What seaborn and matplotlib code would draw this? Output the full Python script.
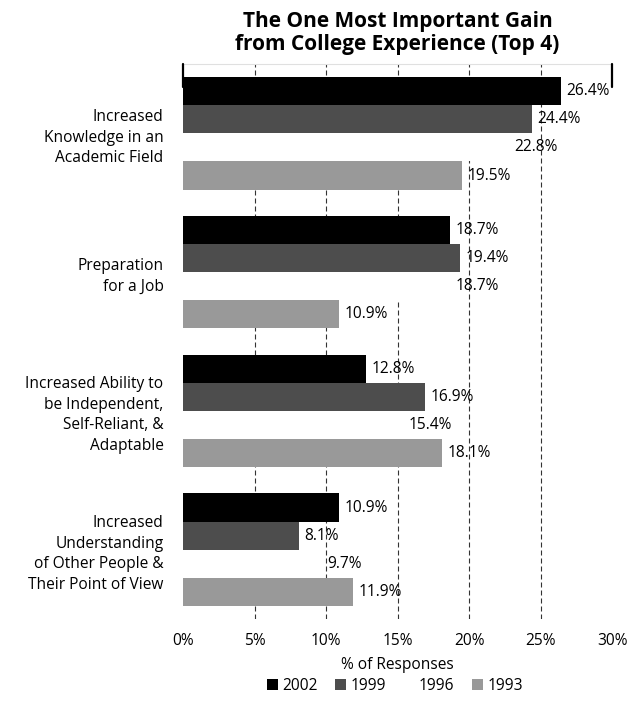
import matplotlib
matplotlib.use("Agg")
import matplotlib.pyplot as plt
import seaborn as sns
import pandas as pd

categories = [
    "Increased\nKnowledge in an\nAcademic Field",
    "Preparation\nfor a Job",
    "Increased Ability to\nbe Independent,\nSelf-Reliant, &\nAdaptable",
    "Increased\nUnderstanding\nof Other People &\nTheir Point of View",
]
years = ["2002", "1999", "1996", "1993"]
v2002 = [26.4, 18.7, 12.8, 10.9]
v1999 = [24.4, 19.4, 16.9, 8.1]
v1996 = [22.8, 18.7, 15.4, 9.7]
v1993 = [19.5, 10.9, 18.1, 11.9]
x_ticks = [0, 5, 10, 15, 20, 25, 30]
x_tick_labels = ["0%", "5%", "10%", "15%", "20%", "25%", "30%"]
colors = ["#000000", "#4d4d4d", "#ffffff", "#999999"]

series = {"2002": v2002, "1999": v1999, "1996": v1996, "1993": v1993}
rows = []
for yr in years:
    for cat, val in zip(categories, series[yr]):
        rows.append({"Gain": cat, "Year": yr, "Percent": val})
df = pd.DataFrame(rows)

sns.set_theme(style="white")
plt.rcParams["font.family"] = ["Open Sans", "DejaVu Sans"]
plt.rcParams["text.color"] = "#000000"

FS = 11.2
fig = plt.figure(figsize=(6.39, 7.04), dpi=100)
ax = fig.add_axes([0.2864, 0.1207, 0.6714, 0.7884])

sns.barplot(data=df, x="Percent", y="Gain", hue="Year", hue_order=years,
            order=categories, orient="h", palette=colors, width=0.81,
            saturation=1, linewidth=0, ax=ax)

for cont in ax.containers:
    ax.bar_label(cont, fmt="%.1f%%", padding=4, fontsize=FS, color="#000000")

ax.set_xlim(0, 30)
ax.set_xticks(x_ticks)
ax.set_xticklabels(x_tick_labels)
ax.set_axisbelow(True)
ax.xaxis.grid(True, linestyle=(0, (4.5, 2.7)), color="#333333", linewidth=0.8)
gl = ax.xaxis.get_gridlines()
gl[0].set_visible(False)
gl[-1].set_visible(False)

for side in ["left", "right", "bottom"]:
    ax.spines[side].set_visible(False)
ax.spines["top"].set_color("#e0e0e0")
ax.spines["top"].set_linewidth(0.8)

# short solid markers at the ends of the scale
for xv in (0, 30):
    ax.axvline(xv, ymin=0.959, ymax=1.0, color="black", lw=1.6, clip_on=False, zorder=5)

ax.tick_params(axis="x", length=0, pad=10, labelsize=FS, labelcolor="#000000")
ax.tick_params(axis="y", length=0, pad=14, labelsize=FS, labelcolor="#000000")
for lab in ax.get_yticklabels():
    lab.set_linespacing(1.38)

ax.set_ylabel("")
ax.set_xlabel("% of Responses", fontsize=FS, labelpad=6, color="#000000")
ax.set_title("The One Most Important Gain\nfrom College Experience (Top 4)",
             fontsize=15, fontweight="bold", pad=10, linespacing=1.12)

sns.move_legend(ax, "center", bbox_to_anchor=(0.618, 0.026),
                bbox_transform=fig.transFigure, ncol=4, frameon=False,
                title=None, fontsize=FS, handlelength=0.7, handleheight=0.7,
                handletextpad=0.3, columnspacing=1.1)

fig.savefig("out.png", dpi=100)
